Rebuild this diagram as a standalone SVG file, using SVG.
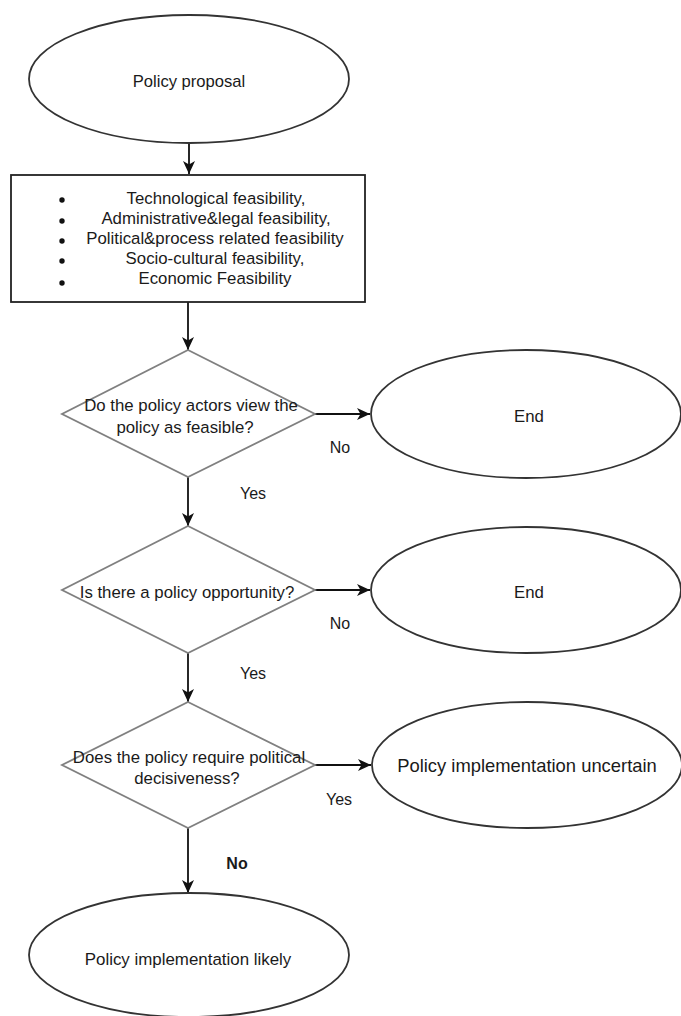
<svg xmlns="http://www.w3.org/2000/svg" width="681" height="1016" viewBox="0 0 681 1016">
<style>
text{font-family:"Liberation Sans",Arial,sans-serif;font-size:16.8px;fill:#1a1a1a;text-anchor:middle}
.term{fill:#fff;stroke:#333;stroke-width:1.8}
.box{fill:#fff;stroke:#222;stroke-width:1.8}
.dec{fill:#fff;stroke:#808080;stroke-width:1.8}
.con{stroke:#111;stroke-width:1.8;fill:none}
.lbl{font-size:16px}
.bold{font-weight:bold}
</style>
<defs>
<marker id="ah" markerWidth="14" markerHeight="12" refX="13" refY="6" orient="auto" markerUnits="userSpaceOnUse">
<path d="M0,0 L13,6 L0,12 L3.5,6 Z" fill="#111"/>
</marker>
</defs>
<rect width="681" height="1016" fill="#fff"/>
<g id="connectors">
<line class="con" x1="189" y1="143" x2="189" y2="174" marker-end="url(#ah)"/>
<line class="con" x1="188" y1="302" x2="188" y2="350" marker-end="url(#ah)"/>
<line class="con" x1="315" y1="414" x2="370" y2="414" marker-end="url(#ah)"/>
<line class="con" x1="188" y1="477" x2="188" y2="526" marker-end="url(#ah)"/>
<line class="con" x1="315" y1="590" x2="370" y2="590" marker-end="url(#ah)"/>
<line class="con" x1="188" y1="653" x2="188" y2="702" marker-end="url(#ah)"/>
<line class="con" x1="315" y1="765" x2="371" y2="765" marker-end="url(#ah)"/>
<line class="con" x1="188" y1="828" x2="188" y2="893" marker-end="url(#ah)"/>
<text class="lbl" x="340" y="453">No</text>
<text class="lbl" x="253" y="499">Yes</text>
<text class="lbl" x="340" y="629">No</text>
<text class="lbl" x="253" y="679">Yes</text>
<text class="lbl" x="339" y="805">Yes</text>
<text class="lbl bold" x="237" y="869">No</text>
</g>
<g id="policy-proposal">
<ellipse class="term" cx="189" cy="79" rx="160" ry="64"/>
<text x="189" y="87" style="font-size:16.6px">Policy proposal</text>
</g>
<g id="feasibility-box">
<rect class="box" x="11" y="175" width="354" height="127"/>
<circle cx="62" cy="200" r="2.7" fill="#111"/>
<circle cx="62" cy="221" r="2.7" fill="#111"/>
<circle cx="62" cy="241" r="2.7" fill="#111"/>
<circle cx="62" cy="261" r="2.7" fill="#111"/>
<circle cx="62" cy="283" r="2.7" fill="#111"/>
<text x="216" y="204">Technological feasibility,</text>
<text x="216" y="224">Administrative&amp;legal feasibility,</text>
<text x="215" y="244">Political&amp;process related feasibility</text>
<text x="215" y="264">Socio-cultural feasibility,</text>
<text x="215" y="284">Economic Feasibility</text>
</g>
<g id="decision-feasible">
<polygon class="dec" points="188,350 315,414 188,477 62,414"/>
<text x="191" y="411">Do the policy actors view the</text>
<text x="185" y="433">policy as feasible?</text>
</g>
<g id="end-1">
<ellipse class="term" cx="526" cy="414" rx="155" ry="64"/>
<text x="529" y="422">End</text>
</g>
<g id="decision-opportunity">
<polygon class="dec" points="188,526 315,590 188,653 62,590"/>
<text x="187" y="598">Is there a policy opportunity?</text>
</g>
<g id="end-2">
<ellipse class="term" cx="526" cy="590" rx="155" ry="63"/>
<text x="529" y="598">End</text>
</g>
<g id="decision-decisiveness">
<polygon class="dec" points="188,702 315,765 188,828 62,765"/>
<text x="189" y="763">Does the policy require political</text>
<text x="187" y="784">decisiveness?</text>
</g>
<g id="implementation-uncertain">
<ellipse class="term" cx="527" cy="765" rx="155" ry="63"/>
<text x="527" y="772" style="font-size:18.4px">Policy implementation uncertain</text>
</g>
<g id="implementation-likely">
<ellipse class="term" cx="189" cy="955" rx="160" ry="62"/>
<text x="188" y="965" style="font-size:16.9px">Policy implementation likely</text>
</g>
</svg>
